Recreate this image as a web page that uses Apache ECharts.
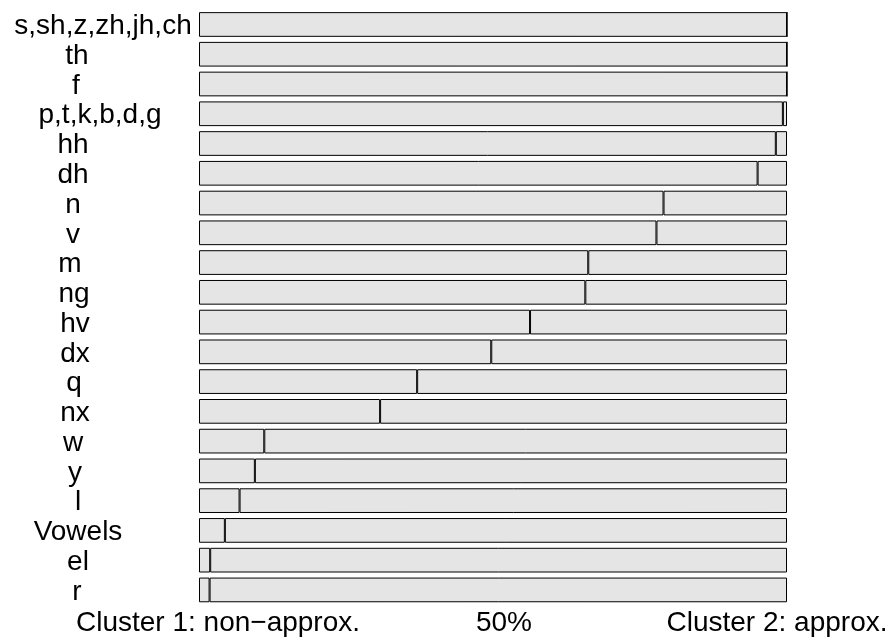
<!DOCTYPE html>
<html>
<head>
<meta charset="utf-8">
<script src="https://cdn.jsdelivr.net/npm/echarts@6/dist/echarts.min.js"></script>
<style>
  html, body { margin: 0; padding: 0; background: #ffffff; }
  #chart { width: 892px; height: 641px; }
</style>
</head>
<body>
<div id="chart"></div>
<script>
// Sound classes, top to bottom
const categories = [
  "s,sh,z,zh,jh,ch", "th", "f", "p,t,k,b,d,g", "hh", "dh", "n", "v", "m", "ng",
  "hv", "dx", "q", "nx", "w", "y", "l", "Vowels", "el", "r"
];

// Share of tokens assigned to each cluster
const cluster1 = [
  1.000, 1.000, 1.000, 0.993, 0.981, 0.950, 0.790, 0.778, 0.662, 0.657,
  0.563, 0.497, 0.371, 0.308, 0.111, 0.095, 0.069, 0.044, 0.019, 0.018
];
const cluster2 = [
  0.000, 0.000, 0.000, 0.007, 0.019, 0.050, 0.210, 0.222, 0.338, 0.343,
  0.437, 0.503, 0.629, 0.692, 0.889, 0.905, 0.931, 0.956, 0.981, 0.982
];

// Labels under the axis at 0, 0.5 and 1
const xTickValues = [0, 0.5, 1];
const xTickLabels = ["Cluster 1: non\u2212approx.", "50%", "Cluster 2: approx."];

// Horizontal nudges (px) for the labels
const yLabelShift = [28, 2, 1, 25, -2, -2, -2, -2, -5, -1, 0, 0, -1, 0, -2, 0, 3, 3, 3, 2];
const xLabelShift = [19, 11, -10];

const FONT = "'Liberation Sans', Arial, Helvetica, sans-serif";
const FSIZE = 28;

function padFor(shift, top) {
  return shift >= 0 ? [top, 0, 0, 2 * shift] : [top, -2 * shift, 0, 0];
}

const yRich = {};
yLabelShift.forEach((s, i) => {
  yRich['r' + i] = { fontFamily: FONT, fontSize: FSIZE, color: '#000', padding: padFor(s, 4) };
});
const xRich = {};
xLabelShift.forEach((s, i) => {
  xRich['x' + i] = { fontFamily: FONT, fontSize: FSIZE, color: '#000', padding: padFor(s, 0) };
});

const barStyle = { color: '#e5e5e5', borderColor: '#000', borderWidth: 1 };

const chart = echarts.init(document.getElementById('chart'), null, { renderer: 'canvas' });
chart.setOption({
  animation: false,
  backgroundColor: '#ffffff',
  grid: { left: 199, right: 105, top: 9.6, bottom: 36.2, containLabel: false },
  xAxis: {
    type: 'value',
    min: 0,
    max: 1,
    interval: 0.5,
    axisLine: { show: false },
    axisTick: { show: false },
    splitLine: { show: false },
    axisLabel: {
      margin: 4,
      fontFamily: FONT,
      fontSize: FSIZE,
      color: '#000',
      showMinLabel: true,
      showMaxLabel: true,
      hideOverlap: false,
      formatter: function (v) {
        const i = xTickValues.indexOf(v);
        return i < 0 ? '' : '{x' + i + '|' + xTickLabels[i] + '}';
      },
      rich: xRich
    }
  },
  yAxis: {
    type: 'category',
    data: categories,
    inverse: true,
    axisLine: { show: false },
    axisTick: { show: false },
    splitLine: { show: false },
    axisLabel: {
      align: 'center',
      margin: 124,
      interval: 0,
      fontFamily: FONT,
      fontSize: FSIZE,
      color: '#000',
      formatter: function (v, i) { return '{r' + i + '|' + v + '}'; },
      rich: yRich
    }
  },
  series: [
    {
      name: 'Cluster 1',
      type: 'bar',
      stack: 'share',
      barWidth: '83%',
      data: cluster1,
      itemStyle: barStyle
    },
    {
      name: 'Cluster 2',
      type: 'bar',
      stack: 'share',
      barWidth: '83%',
      data: cluster2,
      itemStyle: barStyle
    }
  ]
});
</script>
</body>
</html>
